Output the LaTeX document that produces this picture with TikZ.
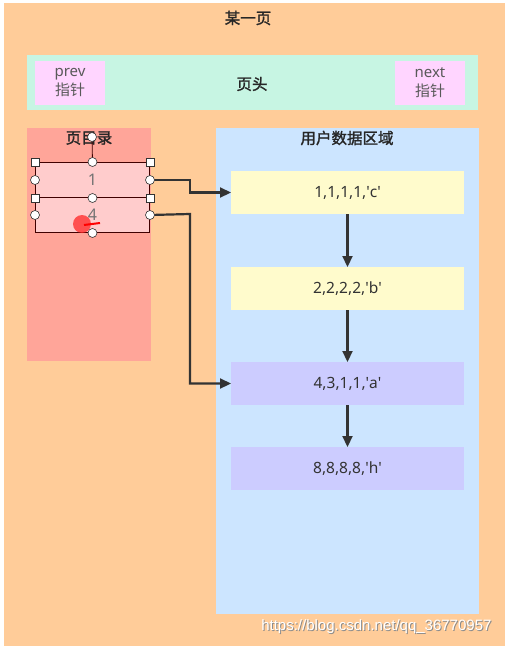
\documentclass[tikz,border=0pt]{standalone}
\usepackage{fontspec}
\setmainfont{Noto Sans CJK SC}
\newfontfamily\cjkb[FakeBold=1.6]{Noto Sans CJK SC}
\newfontfamily\latf{Noto Sans}
\newfontfamily\wmf{Liberation Sans}
\usetikzlibrary{arrows.meta}
\definecolor{pagebg}{HTML}{FFCC99}
\definecolor{headbg}{HTML}{C7F5E3}
\definecolor{ptrbg}{HTML}{FFD5FF}
\definecolor{dirbg}{HTML}{FFA599}
\definecolor{slotbg}{HTML}{FFCCCC}
\definecolor{userbg}{HTML}{CCE5FF}
\definecolor{recy}{HTML}{FFFBCC}
\definecolor{recp}{HTML}{CCCCFF}
\definecolor{ink}{HTML}{333333}
\newcommand{\q}{\textquotesingle}
\tikzset{
  area/.style={draw=none, anchor=north west, inner sep=0pt, outer sep=0pt},
  rec/.style={area, minimum width=233pt, minimum height=43pt, font=\latf\fontsize{15.5}{18}\selectfont, text=ink},
  ptr/.style={area, fill=ptrbg, minimum width=70pt, minimum height=44pt, align=center, font=\fontsize{15}{19}\selectfont, text=black!65},
  slot/.style={draw=black!75!red, line width=1pt, fill=slotbg, anchor=north west, minimum width=114pt, minimum height=35pt, inner sep=0pt, font=\latf\fontsize{16}{18}\selectfont, text=black!55},
  ttl/.style={font=\cjkb\fontsize{15.5}{18}\selectfont, text=black!85},
  conn/.style={draw=ink, line width=2.2pt, -{Triangle[length=11pt,width=10pt]}},
  hsq/.style={draw=black!80, fill=white, line width=0.6pt, minimum size=8pt, inner sep=0pt},
  hci/.style={draw=black!80, fill=white, line width=0.6pt, circle, minimum size=9pt, inner sep=0pt},
}
\begin{document}
\begin{tikzpicture}[x=1pt,y=-1pt]
\useasboundingbox (0,0) rectangle (505,646);
\fill[white] (0,0) rectangle (505,646);
\fill[pagebg] (4,3) rectangle (505,646);
\node[ttl] (title) at (248,18) {某一页};
% header
\node[area, fill=headbg, minimum width=451pt, minimum height=55pt] (head) at (27,55) {};
\node[ttl] (headt) at (252,84) {页头};
\node[ptr] (prev) at (35,61) {{\latf prev}\\指针};
\node[ptr] (next) at (395,61) {{\latf next}\\指针};
% page directory
\node[area, fill=dirbg, minimum width=124pt, minimum height=233pt] (dir) at (27,128) {};
\node[ttl] (dirt) at (89,138) {页目录};
\node[slot] (s1) at (35,162) {1};
\node[slot] (s4) at (35,197) {4};
% user data
\node[area, fill=userbg, minimum width=263pt, minimum height=486pt] (user) at (216,128) {};
\node[ttl] (usert) at (347,138) {用户数据区域};
\node[rec, fill=recy] (r1) at (231,171) {1,1,1,1,\q c\q};
\node[rec, fill=recy] (r2) at (231,267) {2,2,2,2,\q b\q};
\node[rec, fill=recp] (r3) at (231,362) {4,3,1,1,\q a\q};
\node[rec, fill=recp] (r4) at (231,447) {8,8,8,8,\q h\q};
% connectors
\draw[conn] (s1.east) -- (190,180) |- (r1.west);
\draw[conn] (s4.east) -- (190,214) |- (r3.west);
\draw[conn] (r1.south) -- (r2.north);
\draw[conn] (r2.south) -- (r3.north);
\draw[conn] (r3.south) -- (r4.north);
% selection handles
\draw[black!75!red, line width=0.8pt] (92,137) -- (s1.north);
\node[hci] (rot) at (92,137) {};
\foreach \p in {s1.north west, s1.north east, s1.south west, s1.south east}{\node[hsq] at (\p) {};}
\foreach \p in {s1.north, s1.south, s1.west, s1.east, s4.west, s4.east, s4.south}{\node[hci] at (\p) {};}
\fill[red!85!white, opacity=0.75] (82,224) circle (9pt);
\draw[red, line width=2pt] (84,225) -- (100,223);
% watermark
\node[text=black!45, font=\wmf\fontsize{15}{17}\selectfont, anchor=east] at (496,628) {https://blog.csdn.net/qq\_36770957};
\node[text=white, font=\wmf\fontsize{15}{17}\selectfont, anchor=east] (wm) at (495,627) {https://blog.csdn.net/qq\_36770957};
\end{tikzpicture}
\end{document}
